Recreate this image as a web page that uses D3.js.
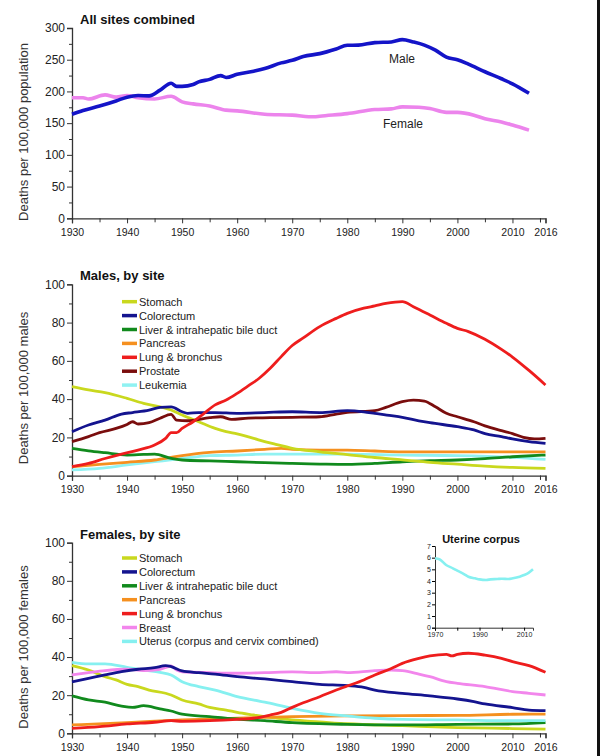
<!DOCTYPE html>
<html>
<head>
<meta charset="utf-8">
<script src="https://cdn.jsdelivr.net/npm/d3@7"></script>
<style>
  body { margin: 0; background: #fff; }
  svg { display: block; font-family: "Liberation Sans", Arial, sans-serif; }
  .tick text { fill: #222; }
  .title { font-weight: bold; font-size: 13px; fill: #111; }
  .ylab { font-size: 13px; fill: #333; }
  .leg { font-size: 11px; fill: #222; }
</style>
</head>
<body>
<svg id="chart" width="600" height="756"></svg>
<script>
// ---- all sites combined ----
var maleYears = [1930,1932,1935,1938,1940,1942,1944,1946,1948,1949,1950,1952,1953,1955,1957,1958,1960,1963,1965,1968,1970,1972,1975,1978,1980,1982,1985,1988,1990,1992,1994,1996,1998,2000,2002,2005,2008,2010,2013];
var maleRates = [164,170,177,185,191,193.5,193,202,213,208,208,211,215,219,225,222,227,232,236,245,249,255,259.6,267,272.7,273,277,278,281.6,278,273,265,254,250,243,231,220,212,197];
var femaleYears = [1930,1932,1933,1936,1938,1940,1942,1945,1948,1950,1952,1955,1958,1960,1965,1970,1974,1975,1980,1985,1988,1990,1993,1995,1998,2000,2003,2005,2008,2010,2013];
var femaleRates = [190,190,188,194.6,191,193.5,190,188,192.5,183.6,180.4,177,170.5,169.4,164,162.6,160,161,165,171.5,172.5,175.7,175,173,167,167,162.6,157,152,147,139];

// ---- males, by site ----
var mStomachYears = [1930,1933,1936,1940,1943,1946,1948,1950,1953,1956,1958,1960,1963,1965,1967,1970,1975,1980,1985,1990,1995,2000,2005,2010,2016];
var mStomach = [46.5,44.8,43.4,40.4,37.8,36,34.3,31.7,28.2,24.7,23,21.8,19.5,17.8,16.4,14.3,12.5,11,9.5,8.3,7,6,5,4.3,3.8];
var mColonYears = [1930,1933,1936,1939,1941,1944,1946,1948,1950,1951,1953,1956,1960,1965,1970,1975,1980,1983,1985,1988,1990,1993,1995,2000,2003,2005,2008,2010,2013,2016];
var mColon = [23,26.5,29,32.2,33,34.3,35.7,36,33.4,32.6,33,33,32.6,33,33.4,33,34,33.4,32.6,31.4,30.5,28.7,27.7,25.6,23.9,22,20.4,19.2,17.8,16.9];
var mLiverYears = [1930,1933,1936,1940,1943,1945,1948,1950,1955,1960,1965,1970,1975,1980,1985,1990,1995,2000,2005,2010,2016];
var mLiver = [14.3,13,12,10.8,11.1,11.3,9,8.2,7.7,7.3,6.8,6.4,6.1,5.9,6.4,7.3,7.8,8.2,8.9,9.9,10.8];
var mPancYears = [1930,1935,1940,1945,1948,1950,1955,1960,1965,1968,1970,1975,1980,1985,1990,2000,2010,2016];
var mPanc = [4.7,5.9,7,8.2,9.6,10.5,12.2,12.9,13.8,14.3,13.8,13.4,13.4,12.9,12.5,12.5,12.5,12.5];
var mLungYears = [1930,1933,1936,1939,1942,1945,1947,1948,1949,1950,1952,1954,1956,1958,1960,1962,1964,1966,1968,1970,1972,1975,1978,1980,1983,1985,1987,1990,1992,1995,1998,2000,2002,2005,2008,2010,2013,2016];
var mLung = [4.7,6.4,9,11.3,13.4,16,19.5,22.5,22.5,24.7,28.2,32.6,37,39.5,43,46.9,50.9,56.1,62.2,68,72,77.9,82.2,84.8,87.5,88.7,90,91,88.3,84,79.6,77,75.3,71.3,66,62,55,47.4];
var mProstYears = [1930,1933,1935,1938,1940,1941,1942,1944,1946,1948,1949,1951,1955,1957,1959,1962,1966,1970,1975,1978,1980,1985,1987,1990,1992,1994,1996,1998,2000,2003,2005,2008,2010,2012,2014,2016];
var mProst = [17.8,20.4,22.5,24.7,26.8,28.2,27,27.7,30,32,29,28.7,30.3,30.8,29.4,30.1,30.3,30.5,30.8,32.2,33.1,34,35.7,38.7,39.5,39,36,32.6,30.8,28.2,26,23.5,22,20,19.2,19.5];
var mLeukYears = [1930,1935,1940,1945,1950,1955,1960,1965,1970,1980,1990,2000,2010,2016];
var mLeuk = [3,3.8,5.6,7.3,9,10.5,10.8,11.3,11.3,11.3,10.8,10.5,9.6,8.5];

// ---- females, by site ----
var fStomachYears = [1930,1933,1936,1938,1940,1942,1944,1947,1948,1950,1953,1955,1958,1960,1963,1965,1970,1975,1980,1990,2000,2010,2016];
var fStomach = [35.5,33.2,29.7,28,25.7,24.5,22.7,21,20.1,17.5,15.4,13.6,12.2,11,9.6,8.7,7,6,5,4,3,2.5,2.2];
var fColonYears = [1930,1933,1936,1939,1942,1945,1947,1948,1950,1953,1956,1960,1965,1970,1975,1980,1983,1985,1990,1995,2000,2003,2005,2010,2013,2016];
var fColon = [27,28.8,30.6,32.3,33.6,34.4,35.5,35,32.7,31.8,31.1,29.7,28.5,27.1,25.7,25,24.1,22.7,21,19.6,18,16.6,15.4,13.5,12.2,11.9];
var fLiverYears = [1930,1933,1936,1939,1941,1943,1946,1948,1950,1955,1960,1965,1970,1980,1990,2000,2010,2016];
var fLiver = [19.6,17.5,16.3,14.3,13.6,14.5,12.8,11.7,10,8.7,7.5,6.6,5.6,4.7,4.4,4.7,4.9,5.6];
var fPancYears = [1930,1940,1950,1960,1965,1970,1980,1990,2000,2010,2016];
var fPanc = [4.4,5.6,7,7.9,8.4,8.7,9.1,9.3,9.4,10,10.1];
var fLungYears = [1930,1935,1940,1945,1948,1950,1955,1960,1963,1966,1968,1970,1972,1975,1978,1980,1983,1985,1988,1990,1993,1995,1998,1999,2000,2002,2005,2008,2010,2013,2016];
var fLung = [2.6,3.5,4.9,5.8,6.6,6.3,6.6,7.3,7.9,9.6,11,13.6,16,19.2,22.7,24.8,28,30.6,34,36.7,39.3,40.6,41.4,40.6,41.4,42,41,39.3,37.6,35.5,32];
var fBreastYears = [1930,1933,1936,1940,1943,1946,1948,1949,1950,1955,1960,1965,1970,1975,1978,1980,1985,1988,1990,1993,1995,1998,2000,2005,2010,2013,2016];
var fBreast = [30.6,31.8,32.9,33.6,32.9,33.6,35.3,33.2,32.3,31.8,31.5,31.8,32.2,31.8,32.3,31.8,32.9,33.2,32.9,31.1,29.7,27.1,26.2,24.5,21.9,21,20.1];
var fUterusYears = [1930,1933,1936,1940,1943,1946,1948,1950,1953,1956,1960,1965,1970,1975,1980,1985,1990,2000,2010,2016];
var fUterus = [37.2,36.4,36.4,34.6,33.2,32,30.6,27.1,24.5,22.7,19.2,16.3,13.1,10.5,9.1,7.9,7.3,7,6.6,6.6];

// ---- inset: uterine corpus ----
var corpusYears = [1970,1972,1975,1978,1980,1983,1985,1988,1990,1993,1995,1998,2000,2003,2005,2008,2010,2012,2014];
var corpus = [5.94,5.86,5.37,5.09,4.89,4.6,4.37,4.23,4.14,4.09,4.14,4.17,4.2,4.17,4.23,4.37,4.51,4.7,5.0];

var yearTicks = [1930,1940,1950,1960,1970,1980,1990,2000,2010,2016];

var svg = d3.select("#chart");

function pairs(years, vals) { return years.map(function(y, i) { return [y, vals[i]]; }); }

// one panel: axes + lines, returns scales
function panel(opt) {
  var x = d3.scaleLinear().domain([1930, 2016]).range([72, 545.5]);
  var y = d3.scaleLinear().domain([0, opt.ymax]).range([opt.bottom, opt.top]);
  var g = svg.append("g");

  // minor ticks
  g.append("g").attr("transform", "translate(0," + opt.bottom + ")")
    .call(d3.axisBottom(x).tickValues(d3.range(1935, 2016, 10).concat([2015])).tickSize(4).tickFormat(""))
    .call(function(a) { a.select(".domain").remove(); a.selectAll("line").attr("stroke", "#333"); });
  g.append("g").attr("transform", "translate(72,0)")
    .call(d3.axisLeft(y).tickValues(d3.range(opt.ystep / 2, opt.ymax, opt.ystep)).tickSize(3).tickFormat(""))
    .call(function(a) { a.select(".domain").remove(); a.selectAll("line").attr("stroke", "#333"); });

  // major axes
  g.append("g").attr("transform", "translate(0," + opt.bottom + ")")
    .call(d3.axisBottom(x).tickValues(yearTicks).tickSize(5).tickPadding(5).tickFormat(d3.format("d")))
    .call(function(a) {
      a.select(".domain").attr("stroke", "#333").attr("stroke-width", 1.3);
      a.selectAll("line").attr("stroke", "#333");
      a.selectAll("text").style("font-size", "10.5px").style("font-family", "Liberation Sans, Arial");
    });
  g.append("g").attr("transform", "translate(72,0)")
    .call(d3.axisLeft(y).ticks(opt.ymax / opt.ystep).tickSize(5).tickPadding(2))
    .call(function(a) {
      a.select(".domain").attr("stroke", "#333").attr("stroke-width", 1.3);
      a.selectAll("line").attr("stroke", "#333");
      a.selectAll("text").style("font-size", "12px").style("font-family", "Liberation Sans, Arial");
    });

  g.append("text").attr("class", "title").attr("x", 80).attr("y", opt.top - 4).text(opt.title);
  g.append("text").attr("class", "ylab")
    .attr("transform", "translate(28," + opt.ylabY + ") rotate(-90)")
    .attr("text-anchor", "middle").text(opt.ylab);

  var line = d3.line().x(function(d) { return x(d[0]); }).y(function(d) { return y(d[1]); })
    .curve(d3.curveMonotoneX);
  opt.series.forEach(function(s) {
    g.append("path").datum(pairs(s.years, s.vals))
      .attr("fill", "none").attr("stroke", s.color).attr("stroke-width", opt.lw)
      .attr("stroke-linejoin", "round").attr("d", line);
  });

  if (opt.legend) {
    var leg = g.append("g");
    opt.legendOrder.forEach(function(s, i) {
      var yy = opt.legendTop + i * 13.9;
      leg.append("line").attr("x1", 122).attr("x2", 137).attr("y1", yy).attr("y2", yy)
        .attr("stroke", s.color).attr("stroke-width", 3.5);
      leg.append("text").attr("class", "leg").attr("x", 139).attr("y", yy + 4).text(s.name);
    });
  }
  return { x: x, y: y };
}

var c = {
  stomach: "#c9d81e", colon: "#14148f", liver: "#118a1d", panc: "#f5901f",
  lung: "#ee1d1d", prost: "#7a0d0d", leuk: "#90f2f2", breast: "#f286ec", uterus: "#86f0f0"
};

// top
var top = panel({
  title: "All sites combined", ylab: "Deaths per 100,000 population", ylabY: 132,
  top: 28, bottom: 218.3, ymax: 300, ystep: 50, lw: 3.6,
  series: [
    { years: femaleYears, vals: femaleRates, color: "#ec84ec" },
    { years: maleYears, vals: maleRates, color: "#1414c8" }
  ]
});
svg.append("text").attr("x", 402).attr("y", 63).attr("text-anchor", "middle")
  .style("font-size", "12px").attr("fill", "#222").text("Male");
svg.append("text").attr("x", 403).attr("y", 128).attr("text-anchor", "middle")
  .style("font-size", "12px").attr("fill", "#222").text("Female");

// males
var mSeries = [
  { name: "Stomach", years: mStomachYears, vals: mStomach, color: c.stomach },
  { name: "Colorectum", years: mColonYears, vals: mColon, color: c.colon },
  { name: "Liver & intrahepatic bile duct", years: mLiverYears, vals: mLiver, color: c.liver },
  { name: "Pancreas", years: mPancYears, vals: mPanc, color: c.panc },
  { name: "Lung & bronchus", years: mLungYears, vals: mLung, color: c.lung },
  { name: "Prostate", years: mProstYears, vals: mProst, color: c.prost },
  { name: "Leukemia", years: mLeukYears, vals: mLeuk, color: c.leuk }
];
panel({
  title: "Males, by site", ylab: "Deaths per 100,000 males", ylabY: 388,
  top: 284.3, bottom: 475.7, ymax: 100, ystep: 20, lw: 2.8,
  series: [mSeries[6], mSeries[3], mSeries[2], mSeries[0], mSeries[5], mSeries[1], mSeries[4]],
  legend: true, legendOrder: mSeries, legendTop: 301.7
});

// females
var fSeries = [
  { name: "Stomach", years: fStomachYears, vals: fStomach, color: c.stomach },
  { name: "Colorectum", years: fColonYears, vals: fColon, color: c.colon },
  { name: "Liver & intrahepatic bile duct", years: fLiverYears, vals: fLiver, color: c.liver },
  { name: "Pancreas", years: fPancYears, vals: fPanc, color: c.panc },
  { name: "Lung & bronchus", years: fLungYears, vals: fLung, color: c.lung },
  { name: "Breast", years: fBreastYears, vals: fBreast, color: c.breast },
  { name: "Uterus (corpus and cervix combined)", years: fUterusYears, vals: fUterus, color: c.uterus }
];
panel({
  title: "Females, by site", ylab: "Deaths per 100,000 females", ylabY: 647,
  top: 542.7, bottom: 733.3, ymax: 100, ystep: 20, lw: 2.8,
  series: [fSeries[0], fSeries[3], fSeries[2], fSeries[6], fSeries[5], fSeries[1], fSeries[4]],
  legend: true, legendOrder: fSeries, legendTop: 558
});

// inset
var ix = d3.scaleLinear().domain([1970, 2014]).range([435, 533]);
var iy = d3.scaleLinear().domain([0, 7]).range([627.7, 546]);
var inset = svg.append("g");
inset.append("g").attr("transform", "translate(0,627.7)")
  .call(d3.axisBottom(ix).tickValues([1970, 1980, 1990, 2000, 2010]).tickSize(3).tickPadding(1)
    .tickFormat(function(d) { return d % 20 === 10 ? d : ""; }))
  .call(function(a) {
    a.select(".domain").attr("stroke", "#333");
    a.selectAll("text").style("font-size", "7px").attr("fill", "#555");
  });
inset.append("g").attr("transform", "translate(435,0)")
  .call(d3.axisLeft(iy).ticks(7).tickSize(3).tickPadding(1))
  .call(function(a) {
    a.select(".domain").attr("stroke", "#333");
    a.selectAll("text").style("font-size", "7px").attr("fill", "#555");
  });
inset.append("text").attr("x", 481).attr("y", 543).attr("text-anchor", "middle")
  .style("font-size", "11px").style("font-weight", "bold").attr("fill", "#111").text("Uterine corpus");
inset.append("path").datum(pairs(corpusYears, corpus))
  .attr("fill", "none").attr("stroke", c.uterus).attr("stroke-width", 2.6)
  .attr("d", d3.line().x(function(d) { return ix(d[0]); }).y(function(d) { return iy(d[1]); }).curve(d3.curveMonotoneX));

// dark strip on the right edge of the original picture
svg.append("rect").attr("x", 597).attr("y", 0).attr("width", 3).attr("height", 756).attr("fill", "#111");
</script>
</body>
</html>
